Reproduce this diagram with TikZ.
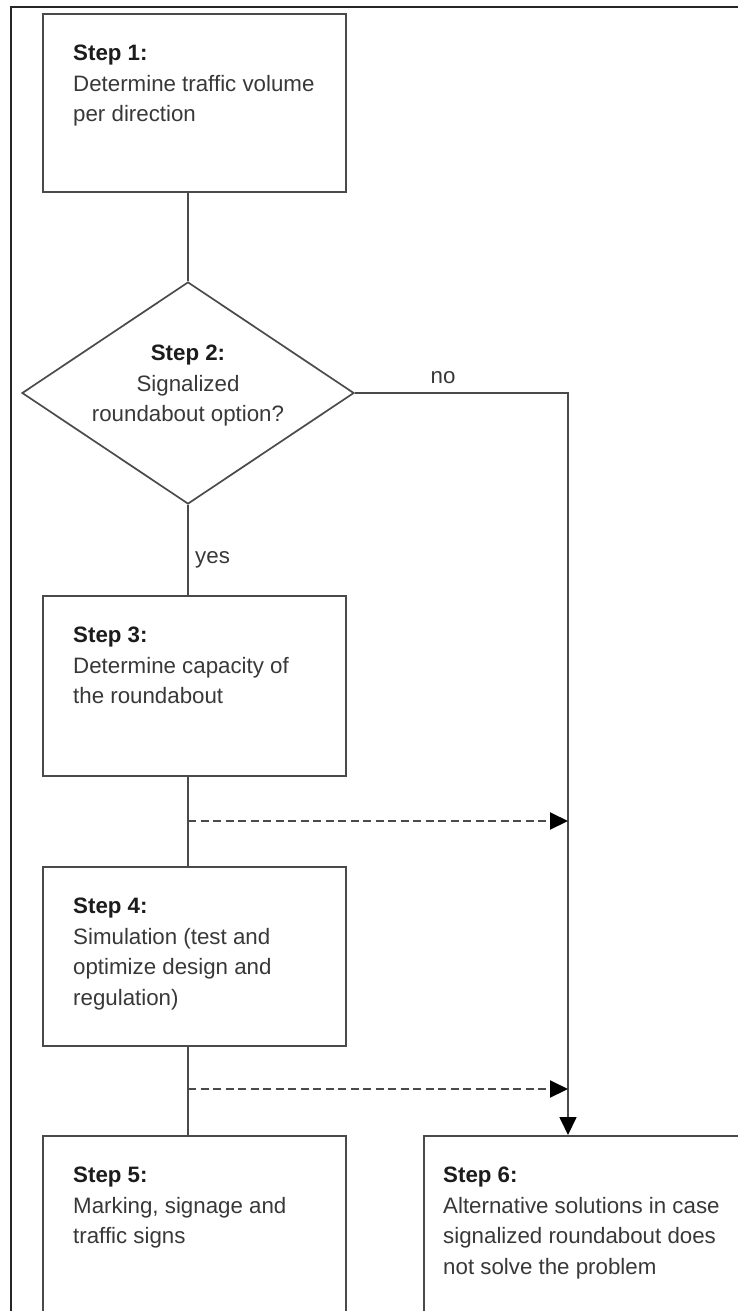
\documentclass[tikz,border=0pt]{standalone}
\usepackage{fontspec}
\setmainfont{Liberation Sans}
\usetikzlibrary{shapes.geometric,arrows.meta,calc}
\definecolor{linegray}{HTML}{4A4A4A}
\definecolor{framegray}{HTML}{262626}
\definecolor{textgray}{HTML}{383838}
\definecolor{headgray}{HTML}{1C1C1C}
\newcommand\stephead[1]{{\color{headgray}\bfseries #1}}
\begin{document}
\begin{tikzpicture}[x=1pt,y=-1pt,
  stepbox/.style={draw=linegray, line width=1.7pt, rectangle, inner sep=0pt, anchor=north west},
  decision/.style={draw=linegray, line width=1.7pt, diamond, inner sep=0pt,
    minimum width=332pt, minimum height=222pt},
  steptext/.style={anchor=north west, inner sep=0pt, align=left, text=textgray,
    font=\fontsize{22.3}{30.5}\selectfont},
  lbl/.style={inner sep=0pt, text=textgray, font=\fontsize{22.3}{26}\selectfont},
  conn/.style={draw=linegray, line width=1.7pt},
  tip/.style={-{Triangle[length=18pt,width=17pt,color=black]}},
  dasharrow/.style={conn, line width=2pt, dash pattern=on 8pt off 4.5pt, tip}
]
\useasboundingbox (0,0) rectangle (737,1311);

% outer frame
\draw[framegray, line width=2.4pt] (11,1340) -- (11,7) -- (760,7);

% boxes
\node[stepbox, minimum width=303pt, minimum height=178pt] (s1) at (42,13) {};
\node[decision] (d2) at (188,393) {};
\node[stepbox, minimum width=303pt, minimum height=180pt] (s3) at (42,595) {};
\node[stepbox, minimum width=303pt, minimum height=179pt] (s4) at (42,866) {};
\node[stepbox, minimum width=303pt, minimum height=210pt] (s5) at (42,1135) {};
\node[stepbox, minimum width=340pt, minimum height=210pt] (s6) at (423,1135) {};

% box texts
\node[steptext] (t1) at ($(s1.north west)+(31,32)$)
  {\stephead{Step 1:}\\Determine traffic volume\\per direction};
\node[steptext, anchor=north, align=center] (t2) at ($(d2.center)+(0,-48)$)
  {\stephead{Step 2:}\\Signalized\\roundabout option?};
\node[steptext] (t3) at ($(s3.north west)+(31,32)$)
  {\stephead{Step 3:}\\Determine capacity of\\the roundabout};
\node[steptext] (t4) at ($(s4.north west)+(31,32)$)
  {\stephead{Step 4:}\\Simulation (test and\\optimize design and\\regulation)};
\node[steptext] (t5) at ($(s5.north west)+(31,32)$)
  {\stephead{Step 5:}\\Marking, signage and\\traffic signs};
\node[steptext] (t6) at ($(s6.north west)+(20,32)$)
  {\stephead{Step 6:}\\Alternative solutions in case\\signalized roundabout does\\not solve the problem};

% main flow
\draw[conn] (s1.south -| d2.north) -- (d2.north);
\draw[conn] (d2.south) -- (d2.south |- s3.north);
\draw[conn] (s3.south -| d2.south) -- (s4.north -| d2.south);
\draw[conn] (s4.south -| d2.south) -- (s5.north -| d2.south);

% "no" branch to step 6
\coordinate (k) at (568,393);
\draw[conn, tip] (d2.east) -- (k) -- (k |- s6.north);

% dashed exits to the alternative branch
\coordinate (j1) at (188,821);
\coordinate (j2) at (188,1089);
\draw[dasharrow] (j1) -- (j1 -| k);
\draw[dasharrow] (j2) -- (j2 -| k);

% branch labels
\node[lbl, anchor=base west] (yes) at (195,563) {yes};
\node[lbl, anchor=base] (no) at (443,383) {no};
\end{tikzpicture}
\end{document}
